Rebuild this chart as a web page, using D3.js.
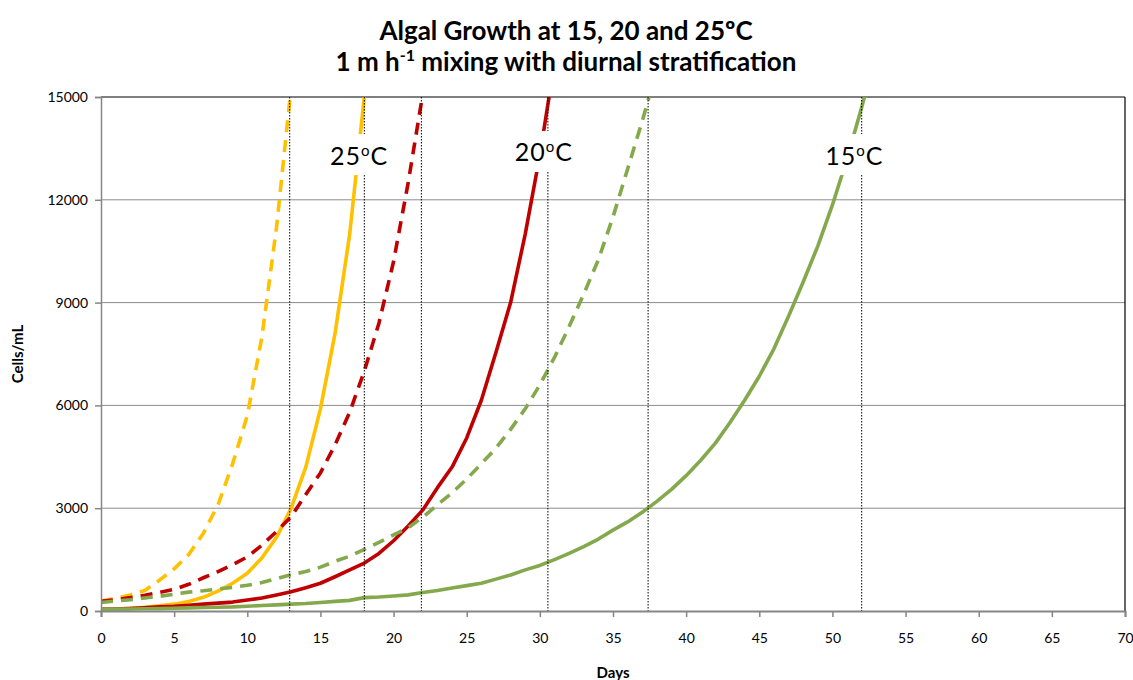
<!DOCTYPE html>
<html>
<head>
<meta charset="utf-8">
<script src="https://cdn.jsdelivr.net/npm/d3@7"></script>
<style>
  body { margin: 0; background: #fff; }
  svg { display: block; font-family: Lato, "Open Sans", sans-serif; }
</style>
</head>
<body>
<svg id="chart" width="1133" height="680"></svg>
<script>
// ---- data (cells/mL per day) ----
const xTicks = [0, 5, 10, 15, 20, 25, 30, 35, 40, 45, 50, 55, 60, 65, 70];
const yTicks = [0, 3000, 6000, 9000, 12000, 15000];

const yellowDashed = [290, 370, 470, 600, 900, 1230, 1650, 2270, 3100, 4300, 5700, 8000, 11200, 15300];
const yellowSolid  = [50, 60, 80, 110, 150, 200, 280, 400, 580, 810, 1100, 1550, 2150, 3000, 4200, 5900, 8100, 11000, 15000];
const redDashed    = [280, 330, 390, 460, 540, 630, 780, 970, 1150, 1350, 1580, 1920, 2320, 2750, 3400, 4030, 4850, 5800, 7000, 8400, 10200, 12500, 15100];
const redSolid     = [50, 60, 75, 95, 120, 140, 170, 200, 230, 260, 320, 380, 470, 560, 680, 810, 1000, 1200, 1400, 1680, 2050, 2480, 2950, 3600, 4200, 5050, 6150, 7550, 9000, 11000, 13300, 16000];
const greenDashed  = [250, 290, 330, 380, 430, 490, 550, 590, 640, 690, 750, 830, 940, 1060, 1150, 1280, 1450, 1600, 1800, 2000, 2220, 2430, 2740, 3100, 3450, 3850, 4300, 4750, 5300, 5900, 6600, 7400, 8300, 9250, 10250, 11500, 12900, 14300, 15800];
const greenSolid   = [50, 55, 60, 65, 70, 80, 90, 100, 110, 120, 140, 160, 180, 200, 220, 250, 280, 310, 390, 410, 440, 470, 540, 600, 670, 740, 810, 930, 1050, 1200, 1330, 1500, 1680, 1880, 2100, 2360, 2600, 2880, 3200, 3550, 3950, 4400, 4900, 5500, 6150, 6850, 7650, 8600, 9600, 10650, 11850, 13200, 14700, 16300];

const markerDays = [12.9, 18.0, 21.9, 30.55, 37.4, 52.0];

const labelTexts = ["25", "20", "15"];
const labelDays  = [17.65, 30.28, 51.5];
const labelVals  = [13320, 13410, 13320];

// ---- layout ----
const svg = d3.select("#chart");
const L = 101, R = 1125, T = 97, B = 611;
const x = d3.scaleLinear().domain([0, 70]).range([L, R]);
const y = d3.scaleLinear().domain([0, 15000]).range([B, T]);

const YELLOW = "#FFC000", RED = "#C00000", GREEN = "#84A94C";

// title (two separate lines)
svg.append("text").attr("x", 566).attr("y", 40).attr("text-anchor", "middle")
  .attr("font-weight", 700).attr("font-size", 26).attr("fill", "#000")
  .text("Algal Growth at 15, 20 and 25ºC");
const t2 = svg.append("text").attr("x", 566).attr("y", 71).attr("text-anchor", "middle")
  .attr("font-weight", 700).attr("font-size", 26).attr("fill", "#000");
t2.append("tspan").text("1 m h");
t2.append("tspan").attr("font-size", 16).attr("dy", -10).text("-1");
t2.append("tspan").attr("dy", 10).text(" mixing with diurnal stratification");

// gridlines
svg.append("g").selectAll("line").data(yTicks.filter(v => v > 0 && v < 15000)).join("line")
  .attr("x1", L).attr("x2", R).attr("y1", d => y(d)).attr("y2", d => y(d))
  .attr("stroke", "#8c8c8c").attr("stroke-width", 1);

// plot border (top & right)
svg.append("line").attr("x1", L).attr("x2", R).attr("y1", T).attr("y2", T).attr("stroke", "#000").attr("stroke-width", 1.2);
svg.append("line").attr("x1", R).attr("x2", R).attr("y1", T).attr("y2", B).attr("stroke", "#000").attr("stroke-width", 1.2);

// clip
svg.append("clipPath").attr("id", "plotclip").append("rect")
  .attr("x", L).attr("y", T).attr("width", R - L).attr("height", B - T);

const line = d3.line().x((d, i) => x(i)).y(d => y(d));
const series = [
  { data: yellowSolid, color: YELLOW, dash: null },
  { data: yellowDashed, color: YELLOW, dash: "12,8" },
  { data: redSolid, color: RED, dash: null },
  { data: redDashed, color: RED, dash: "12,8" },
  { data: greenSolid, color: GREEN, dash: null },
  { data: greenDashed, color: GREEN, dash: "12,8" }
];
const gS = svg.append("g").attr("clip-path", "url(#plotclip)");
series.forEach(s => {
  gS.append("path").datum(s.data).attr("d", line)
    .attr("fill", "none").attr("stroke", s.color).attr("stroke-width", 3.6)
    .attr("stroke-linejoin", "round")
    .attr("stroke-dasharray", s.dash);
});

// vertical dotted marker lines
svg.append("g").selectAll("line").data(markerDays).join("line")
  .attr("x1", d => x(d)).attr("x2", d => x(d)).attr("y1", T).attr("y2", B)
  .attr("stroke", "#000").attr("stroke-width", 1).attr("stroke-dasharray", "1.5,1.5");

// axes
const yAxis = d3.axisLeft(y).tickValues(yTicks).tickSize(6).tickPadding(7).tickFormat(d3.format("d"));
const gy = svg.append("g").attr("transform", `translate(${L},0)`).call(yAxis);
const xAxis = d3.axisBottom(x).tickValues(xTicks).tickSize(6).tickPadding(16).tickFormat(d3.format("d"));
const gx = svg.append("g").attr("transform", `translate(0,${B})`).call(xAxis);
[gx, gy].forEach(g => {
  g.select(".domain").attr("stroke", "#868686").attr("stroke-width", 2);
  g.selectAll(".tick line").attr("stroke", "#868686").attr("stroke-width", 1.5);
  g.selectAll(".tick text").attr("font-family", "Lato, sans-serif").attr("font-size", 14).attr("fill", "#000");
});
gy.select(".domain").attr("stroke-width", 1.5);

// axis titles
svg.append("text").attr("x", 613).attr("y", 678).attr("text-anchor", "middle")
  .attr("font-weight", 700).attr("font-size", 15).text("Days");
svg.append("text").attr("transform", "translate(23,354) rotate(-90)").attr("text-anchor", "middle")
  .attr("font-weight", 700).attr("font-size", 15).text("Cells/mL");

// temperature labels with white boxes
labelTexts.forEach((t, i) => {
  const cx = x(labelDays[i]), cy = y(labelVals[i]);
  const g = svg.append("g");
  g.append("rect").attr("x", cx - 33).attr("y", cy - 20.5).attr("width", 66).attr("height", 41).attr("fill", "#fff");
  const tx = g.append("text").attr("x", cx).attr("y", cy + 10).attr("text-anchor", "middle")
    .attr("font-size", 25).attr("fill", "#000").attr("letter-spacing", 1);
  tx.append("tspan").text(t);
  tx.append("tspan").attr("font-size", 15).attr("dy", -9).text("o");
  tx.append("tspan").attr("dy", 9).text("C");
});
</script>
</body>
</html>
